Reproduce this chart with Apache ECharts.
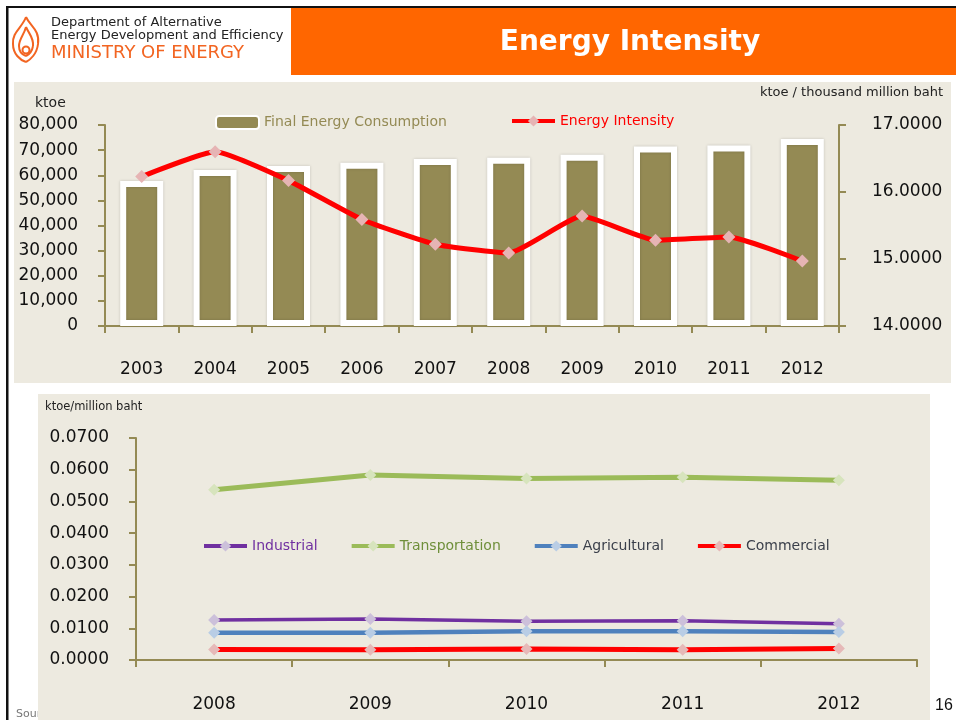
<!DOCTYPE html>
<html>
<head>
<meta charset="utf-8">
<title>Energy Intensity</title>
<script src="https://cdn.jsdelivr.net/npm/echarts@6/dist/echarts.min.js"></script>
<style>
  html, body { margin: 0; padding: 0; background: #fff; }
  #chart { width: 956px; height: 720px; }
</style>
</head>
<body>
<div id="chart"></div>
<script>
// top chart data
const years = ["2003", "2004", "2005", "2006", "2007", "2008", "2009", "2010", "2011", "2012"];
const finalConsumption = [57700, 62100, 63700, 65000, 66500, 67000, 68200, 71400, 71800, 74400];
const energyIntensity = [16.23, 16.60, 16.17, 15.59, 15.22, 15.09, 15.64, 15.28, 15.33, 14.97];

// bottom chart data (ktoe / million baht)
const sectorYears = ["2008", "2009", "2010", "2011", "2012"];
const industrial = [0.0126, 0.0129, 0.0122, 0.0124, 0.0114];
const transportation = [0.0537, 0.0583, 0.0572, 0.0576, 0.0567];
const agricultural = [0.0086, 0.0086, 0.0091, 0.0091, 0.0088];
const commercial = [0.0033, 0.0032, 0.0035, 0.0032, 0.0036];

const FONT = "DejaVu Sans";
const OLIVE = "#948a54";
const BEIGE = "#edeae0";
const LOGO = "#f26522";

const chart = echarts.init(document.getElementById("chart"));

const axisLine = { show: true, lineStyle: { color: OLIVE, width: 2 } };
const axisTick = { show: true, length: 7, lineStyle: { color: OLIVE, width: 2 } };

function sectorSeries(name, data, line, marker, width) {
  return {
    name: name,
    type: "line",
    xAxisIndex: 1,
    yAxisIndex: 2,
    data: data,
    symbol: "diamond",
    symbolSize: 12,
    lineStyle: { color: line, width: width },
    itemStyle: { color: marker },
    emphasis: { disabled: true },
    z: 3
  };
}

// flame logo drawn as a few bezier strokes
function curve(x1, y1, c1x, c1y, c2x, c2y, x2, y2) {
  return {
    type: "bezierCurve", z: 10,
    shape: { x1: x1, y1: y1, cpx1: c1x, cpy1: c1y, cpx2: c2x, cpy2: c2y, x2: x2, y2: y2 },
    style: { stroke: LOGO, lineWidth: 2, fill: null }
  };
}
const logo = [
  curve(26, 17, 30, 26, 40, 30, 38, 44),
  curve(38, 44, 37, 54, 30, 60, 26, 62),
  curve(26, 62, 20, 60, 13, 54, 13, 44),
  curve(13, 44, 12, 32, 22, 28, 26, 17),
  curve(26, 27, 29, 34, 34, 38, 33, 46),
  curve(33, 46, 32, 52, 28, 55, 26, 56),
  curve(26, 56, 23, 55, 19, 52, 19, 46),
  curve(19, 46, 19, 39, 24, 35, 26, 27),
  { type: "circle", z: 10, shape: { cx: 26, cy: 50, r: 3.5 }, style: { fill: null, stroke: LOGO, lineWidth: 2 } }
];

const legendText = { fontFamily: FONT, fontSize: 14 };
const legendLine = { width: 4 };

chart.setOption({
  animation: false,
  backgroundColor: "#ffffff",
  textStyle: { fontFamily: FONT },
  graphic: logo.concat([
    // slide frame
    { type: "rect", z: -30, shape: { x: 6, y: 6, width: 950, height: 2 }, style: { fill: "#111" } },
    { type: "rect", z: -30, shape: { x: 6, y: 6, width: 2.5, height: 714 }, style: { fill: "#111" } },
    // header
    { type: "rect", z: -20, shape: { x: 291, y: 8, width: 665, height: 67 }, style: { fill: "#ff6600" } },
    {
      type: "text", z: 10, x: 630, y: 43,
      style: { text: "Energy Intensity", fill: "#fff", font: "bold 28px " + FONT, align: "center", verticalAlign: "middle" }
    },
    { type: "text", z: 10, x: 51, y: 23, style: { text: "Department of Alternative", fill: "#222", font: "13px " + FONT, verticalAlign: "middle" } },
    { type: "text", z: 10, x: 51, y: 36, style: { text: "Energy Development and Efficiency", fill: "#222", font: "13px " + FONT, verticalAlign: "middle" } },
    { type: "text", z: 10, x: 51, y: 53, style: { text: "MINISTRY OF ENERGY", fill: LOGO, font: "18px " + FONT, verticalAlign: "middle" } },
    // footer text, mostly hidden behind the lower panel
    { type: "text", z: -15, x: 16, y: 714, style: { text: "Source: DEDE", fill: "#777", font: "11px " + FONT, verticalAlign: "middle" } },
    { type: "text", z: 10, x: 935, y: 706, style: { text: "16", fill: "#111", font: "16px Liberation Sans", verticalAlign: "middle" } },
    // panels
    { type: "rect", z: -10, shape: { x: 14, y: 82, width: 937, height: 301 }, style: { fill: BEIGE } },
    { type: "rect", z: -10, shape: { x: 38, y: 394, width: 892, height: 326 }, style: { fill: BEIGE } },
    // axis captions
    { type: "text", z: 10, x: 35, y: 103, style: { text: "ktoe", fill: "#222", font: "14px " + FONT, verticalAlign: "middle" } },
    { type: "text", z: 10, x: 943, y: 93, style: { text: "ktoe / thousand million baht", fill: "#222", font: "13px " + FONT, align: "right", verticalAlign: "middle" } },
    { type: "text", z: 10, x: 45, y: 407, style: { text: "ktoe/million baht", fill: "#222", font: "11.5px " + FONT, verticalAlign: "middle" } }
  ]),
  legend: [
    {
      left: 210, top: 110, itemWidth: 43, itemHeight: 13,
      data: [{ name: "Final Energy Consumption", textStyle: { color: OLIVE } }],
      textStyle: legendText
    },
    {
      left: 505, top: 109, itemWidth: 43, itemHeight: 14, lineStyle: legendLine,
      data: [{ name: "Energy Intensity", textStyle: { color: "#ff0000" } }],
      textStyle: legendText
    },
    {
      left: 197, top: 534, itemWidth: 43, itemHeight: 14, itemGap: 32, lineStyle: legendLine,
      data: [
        { name: "Industrial", textStyle: { color: "#7030a0" } },
        { name: "Transportation", textStyle: { color: "#6f8f3a" } },
        { name: "Agricultural", textStyle: { color: "#3a3f4a" } },
        { name: "Commercial", textStyle: { color: "#3a3f4a" } }
      ],
      textStyle: legendText
    }
  ],
  grid: [
    { left: 105, right: 117, top: 125, bottom: 394 },
    { left: 136, right: 39, top: 438, bottom: 60 }
  ],
  xAxis: [
    {
      type: "category", gridIndex: 0, data: years,
      axisLine: axisLine, axisTick: axisTick,
      axisLabel: { color: "#111", fontSize: 17, fontFamily: FONT, margin: 35 }
    },
    {
      type: "category", gridIndex: 1, data: sectorYears,
      axisLine: axisLine, axisTick: axisTick,
      axisLabel: { color: "#111", fontSize: 17, fontFamily: FONT, margin: 36 }
    }
  ],
  yAxis: [
    {
      type: "value", gridIndex: 0, min: 0, max: 80000, interval: 10000,
      axisLine: axisLine, axisTick: axisTick, splitLine: { show: false },
      axisLabel: {
        color: "#111", fontSize: 17, fontFamily: FONT, margin: 27,
        formatter: v => v.toLocaleString("en-US")
      }
    },
    {
      type: "value", gridIndex: 0, position: "right", min: 14, max: 17, interval: 1,
      axisLine: axisLine, axisTick: axisTick, splitLine: { show: false },
      axisLabel: {
        color: "#111", fontSize: 17, fontFamily: FONT, margin: 33,
        formatter: v => v.toFixed(4)
      }
    },
    {
      type: "value", gridIndex: 1, min: 0, max: 0.07, interval: 0.01,
      axisLine: axisLine, axisTick: axisTick, splitLine: { show: false },
      axisLabel: {
        color: "#111", fontSize: 17, fontFamily: FONT, margin: 27,
        formatter: v => v.toFixed(4)
      }
    }
  ],
  series: [
    {
      name: "Final Energy Consumption",
      type: "bar",
      xAxisIndex: 0,
      yAxisIndex: 0,
      data: finalConsumption,
      barWidth: 43,
      itemStyle: {
        color: OLIVE, borderColor: "#ffffff", borderWidth: 6,
        shadowBlur: 3, shadowColor: "rgba(0,0,0,0.18)"
      },
      emphasis: { disabled: true },
      z: 2
    },
    {
      name: "Energy Intensity",
      type: "line",
      xAxisIndex: 0,
      yAxisIndex: 1,
      data: energyIntensity,
      smooth: 0.15,
      symbol: "diamond",
      symbolSize: 13,
      lineStyle: { color: "#ff0000", width: 5 },
      itemStyle: { color: "#e6b4b4" },
      emphasis: { disabled: true },
      z: 4
    },
    sectorSeries("Industrial", industrial, "#7030a0", "#ccc0da", 3.5),
    sectorSeries("Transportation", transportation, "#9bbb59", "#d7e4bd", 5),
    sectorSeries("Agricultural", agricultural, "#4f81bd", "#b9cde5", 4.5),
    sectorSeries("Commercial", commercial, "#ff0000", "#e6b9b8", 5)
  ]
});
</script>
</body>
</html>
